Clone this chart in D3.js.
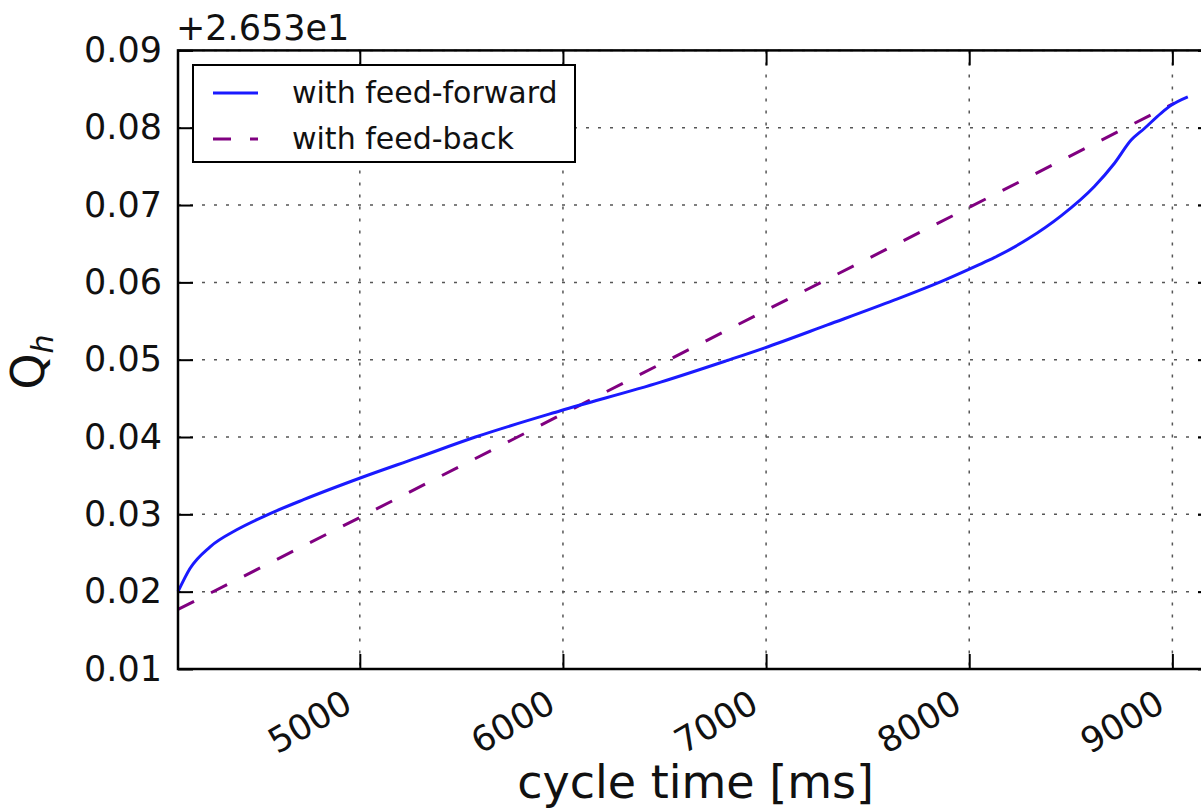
<!DOCTYPE html>
<html lang="en">
<head>
<meta charset="UTF-8">
<title>Q_h vs cycle time</title>
<script src="https://d3js.org/d3.v7.min.js"></script>
<style>
body { margin: 0; background: #fff; overflow: hidden; }
text { font-family: "DejaVu Sans", sans-serif; fill: #111; }
.grid line { stroke: #555; stroke-width: 1.5; stroke-dasharray: 3,9; }
</style>
</head>
<body>
<div id="chart"></div>
<script>
// values shown relative to the axis offset (+2.653e1)
var offsetText = "+2.653e1";

var ffTime = [4105, 4164, 4263, 4394, 4542, 4723, 5002, 5281, 5569, 5988, 6481, 6809, 6990,
              7302, 7630, 7861, 8041, 8123, 8288, 8452, 8616, 8715, 8797, 8862, 8945, 8994, 9076];
var ffQ    = [0.0200, 0.0230, 0.0258, 0.0280, 0.0299, 0.0319, 0.0347, 0.0373, 0.0400, 0.0434,
              0.0471, 0.0499, 0.0515, 0.0545, 0.0577, 0.0601, 0.0622, 0.0632, 0.0656, 0.0686,
              0.0724, 0.0754, 0.0784, 0.0799, 0.0819, 0.0829, 0.0840];

var fbTime = [4105, 5000, 6000, 7000, 8000, 9010];
var fbQ    = [0.0177, 0.0296, 0.0430, 0.0564, 0.0697, 0.0832];

var xTicks = [5000, 6000, 7000, 8000, 9000];
var yTicks = [0.01, 0.02, 0.03, 0.04, 0.05, 0.06, 0.07, 0.08, 0.09];
var seriesNames = ["with feed-forward", "with feed-back"];

var W = 1201, H = 809;
var m = { left: 178, right: 1213, top: 50.4, bottom: 669 };

var svg = d3.select("#chart").append("svg")
    .attr("width", W).attr("height", H);

var x = d3.scaleLinear().domain([4105, 9200]).range([m.left, m.right]);
var y = d3.scaleLinear().domain([0.01, 0.09]).range([m.bottom, m.top]);

// grid
var grid = svg.append("g").attr("class", "grid");
grid.selectAll(".gx").data(xTicks).enter().append("line")
    .attr("x1", d => x(d)).attr("x2", d => x(d))
    .attr("y1", m.top).attr("y2", m.bottom);
grid.selectAll(".gy").data(yTicks).enter().append("line")
    .attr("x1", m.left).attr("x2", m.right)
    .attr("y1", d => y(d)).attr("y2", d => y(d));

// lines
var line = d3.line().x(d => x(d[0])).y(d => y(d[1]));
var smooth = d3.line().curve(d3.curveMonotoneX).x(d => x(d[0])).y(d => y(d[1]));

svg.append("path")
    .datum(fbTime.map((t, i) => [t, fbQ[i]]))
    .attr("d", line)
    .attr("fill", "none")
    .attr("stroke", "#800080")
    .attr("stroke-width", 3)
    .attr("stroke-dasharray", "18,19");

svg.append("path")
    .datum(ffTime.map((t, i) => [t, ffQ[i]]))
    .attr("d", smooth)
    .attr("fill", "none")
    .attr("stroke", "#1a1aff")
    .attr("stroke-width", 3);

// axes, ticks pointing inward on all sides
var tickLen = 15;
var fmtY = d3.format(".2f");

svg.append("g")
    .attr("transform", "translate(" + m.left + ",0)")
    .call(d3.axisLeft(y).tickValues(yTicks).tickSize(-tickLen).tickPadding(16).tickFormat(fmtY))
    .call(g => g.select(".domain").remove())
    .call(g => g.selectAll("line").attr("stroke", "#000").attr("stroke-width", 2))
    .call(g => g.selectAll("text").style("font-size", "35px").attr("fill", "#111"));

svg.append("g")
    .attr("transform", "translate(" + m.right + ",0)")
    .call(d3.axisRight(y).tickValues(yTicks).tickSize(-tickLen).tickFormat(""))
    .call(g => g.select(".domain").remove())
    .call(g => g.selectAll("line").attr("stroke", "#000").attr("stroke-width", 2));

var xAxis = svg.append("g")
    .attr("transform", "translate(0," + m.bottom + ")")
    .call(d3.axisBottom(x).tickValues(xTicks).tickSize(-tickLen).tickFormat(d3.format("d")))
    .call(g => g.select(".domain").remove())
    .call(g => g.selectAll("line").attr("stroke", "#000").attr("stroke-width", 2));
xAxis.selectAll("text")
    .style("font-size", "35px")
    .attr("fill", "#111")
    .attr("text-anchor", "end")
    .attr("dy", null)
    .attr("y", 0)
    .attr("transform", "translate(-6,41) rotate(-30)");

svg.append("g")
    .attr("transform", "translate(0," + m.top + ")")
    .call(d3.axisTop(x).tickValues(xTicks).tickSize(-tickLen).tickFormat(""))
    .call(g => g.select(".domain").remove())
    .call(g => g.selectAll("line").attr("stroke", "#000").attr("stroke-width", 2));

// frame
svg.append("rect")
    .attr("x", m.left).attr("y", m.top)
    .attr("width", m.right - m.left).attr("height", m.bottom - m.top)
    .attr("fill", "none").attr("stroke", "#000").attr("stroke-width", 2.5);

// offset text
svg.append("text")
    .attr("x", m.left - 2).attr("y", 40)
    .style("font-size", "35px")
    .text(offsetText);

// axis labels
svg.append("text")
    .attr("x", (m.left + m.right) / 2).attr("y", 798)
    .attr("text-anchor", "middle")
    .style("font-size", "46px")
    .text("cycle time [ms]");

var yl = svg.append("text")
    .attr("transform", "translate(44,362) rotate(-90)")
    .attr("text-anchor", "middle")
    .style("font-size", "46px");
yl.append("tspan").text("Q");
yl.append("tspan").attr("dy", 9).style("font-size", "30px").style("font-style", "italic").text("h");

// legend
var lg = svg.append("g");
lg.append("rect")
    .attr("x", 193).attr("y", 65).attr("width", 382).attr("height", 97)
    .attr("fill", "#fff").attr("stroke", "#000").attr("stroke-width", 2);
var legendStyles = [
    { color: "#1a1aff", dash: null, w: 3 },
    { color: "#800080", dash: "18,19", w: 3 }
];
seriesNames.forEach(function(name, i) {
    var cy = 93 + i * 46;
    lg.append("line")
        .attr("x1", 213).attr("x2", 258).attr("y1", cy).attr("y2", cy)
        .attr("stroke", legendStyles[i].color)
        .attr("stroke-width", legendStyles[i].w)
        .attr("stroke-dasharray", legendStyles[i].dash);
    lg.append("text")
        .attr("x", 292).attr("y", cy + 10)
        .style("font-size", "30px")
        .text(name);
});
</script>
</body>
</html>
